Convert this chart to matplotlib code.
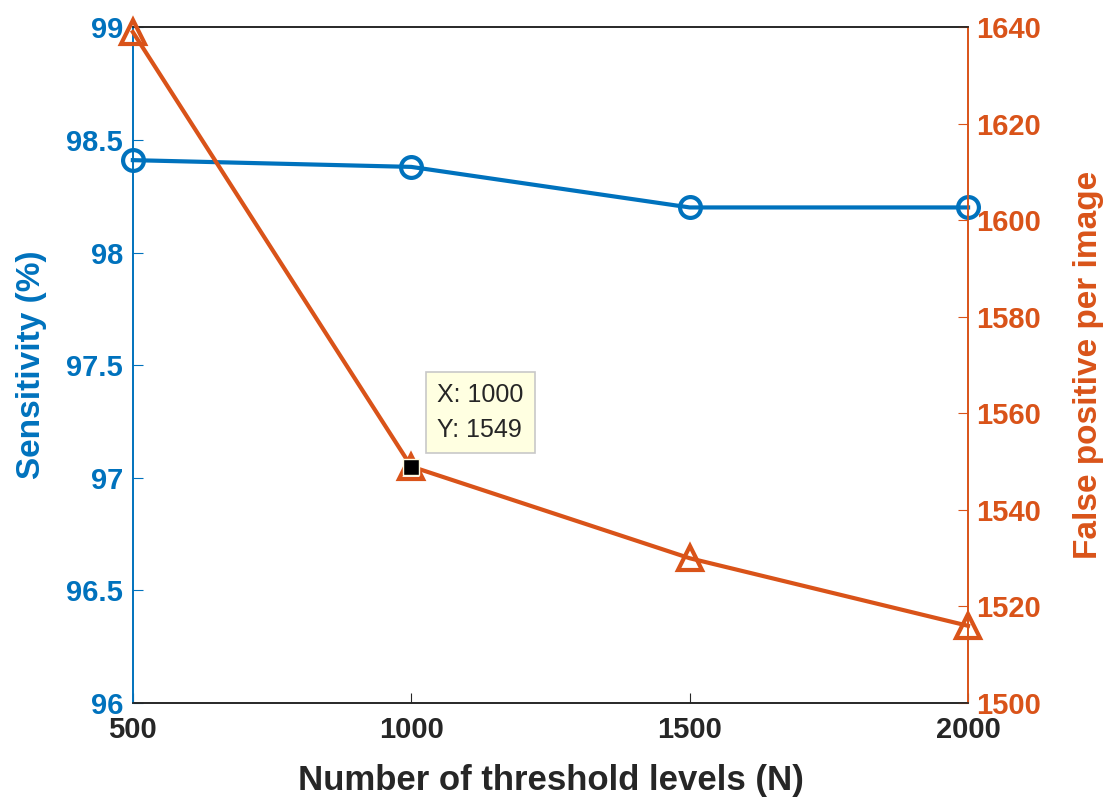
import matplotlib
matplotlib.use("Agg")
import matplotlib.pyplot as plt

# data
levels = [500, 1000, 1500, 2000]
sensitivity = [98.41, 98.38, 98.20, 98.20]
false_pos = [1639, 1549, 1530, 1516]
tip_x, tip_y = 1000, 1549

BLUE = "#0072BD"
ORANGE = "#D95319"
DARK = "#262626"

plt.rcParams["font.family"] = ["Liberation Sans", "DejaVu Sans"]
plt.rcParams["font.weight"] = "bold"

fig = plt.figure(figsize=(11.07, 8.01), dpi=100)
ax = fig.add_axes([0.120, 0.1223, 0.7545, 0.8437])
ax2 = ax.twinx()

ax.plot(levels, sensitivity, "-o", color=BLUE, lw=3, ms=15, mfc="none",
        mew=3, clip_on=False, zorder=3)
ax2.plot(levels, false_pos, "-^", color=ORANGE, lw=3, ms=17, mfc="none",
         mew=3, clip_on=False, zorder=3)

# data tip (MATLAB style)
ax2.plot([tip_x], [tip_y], "s", color="black", mec="#fffbe0", ms=12, mew=1,
         zorder=5, clip_on=False)
ax2.annotate(f"X: {tip_x}\nY: {tip_y}", (tip_x, tip_y), xytext=(26, 25),
             textcoords="offset pixels", fontsize=18, fontweight="normal",
             color=DARK, linespacing=1.55, va="bottom", ha="left",
             bbox=dict(boxstyle="square,pad=0.45", fc="#ffffe1", ec="#c8c8c8", lw=1.2))

ax.set_xlim(500, 2000)
ax.set_ylim(96, 99)
ax2.set_ylim(1500, 1640)
ax.set_xticks(levels)
ax.set_yticks([96, 96.5, 97, 97.5, 98, 98.5, 99])
ax.set_yticklabels(["96", "96.5", "97", "97.5", "98", "98.5", "99"])
ax2.set_yticks(range(1500, 1641, 20))

ax.set_xlabel("Number of threshold levels (N)", fontsize=25, fontweight="bold", color=DARK)
ax.set_ylabel("Sensitivity (%)", fontsize=24, fontweight="bold", color=BLUE)
ax2.set_ylabel("False positive per image", fontsize=24, fontweight="bold", color=ORANGE)
ax.xaxis.set_label_coords(0.5, -0.09)
ax.yaxis.set_label_coords(-0.103, 0.5)
ax2.yaxis.set_label_coords(1.126, 0.5)

ax.tick_params(axis="x", direction="in", length=7, colors=DARK, labelsize=21, pad=9)
ax.tick_params(axis="y", direction="in", length=7, colors=BLUE, labelsize=21, pad=7)
ax2.tick_params(axis="y", direction="in", length=7, colors=ORANGE, labelsize=21, pad=6)

for a in (ax, ax2):
    a.spines["top"].set_color(DARK)
    a.spines["bottom"].set_color(DARK)
    a.spines["left"].set_color(BLUE)
    a.spines["right"].set_color(ORANGE)
    for s in a.spines.values():
        s.set_linewidth(1.2)

fig.savefig("out.png", dpi=100)
